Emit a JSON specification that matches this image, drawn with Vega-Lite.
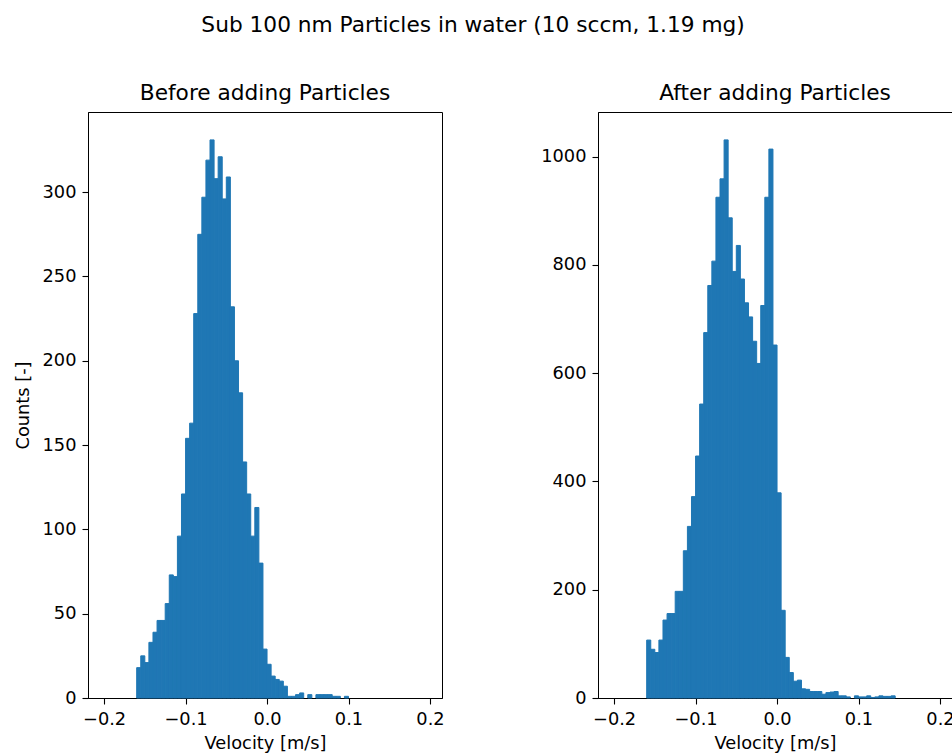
{
  "$schema": "https://vega.github.io/schema/vega-lite/v6.json",
  "background": "white",
  "padding": {"left": 13, "top": 15, "right": 0, "bottom": 0},
  "title": {"text": "Sub 100 nm Particles in water (10 sccm, 1.19 mg)", "anchor": "middle", "dx": -11, "offset": 46, "font": "DejaVu Sans", "fontSize": 21.7, "fontWeight": "normal", "color": "black"},
  "config": {
    "font": "DejaVu Sans",
    "view": {"stroke": "black", "strokeWidth": 1},
    "axis": {"grid": false, "domain": true, "domainColor": "black", "domainWidth": 1, "tickColor": "black", "tickSize": 6, "tickWidth": 1.1, "labelFont": "DejaVu Sans", "labelFontSize": 17.8, "labelColor": "black", "labelPadding": 6, "titleFont": "DejaVu Sans", "titleFontSize": 17.8, "titleFontWeight": "normal", "titleColor": "black"},
    "axisY": {"titlePadding": 10},
    "axisX": {"titlePadding": 7},
    "title": {"font": "DejaVu Sans", "fontSize": 21.7, "fontWeight": "normal", "color": "black"}
  },
  "datasets": {
    "before": [
      {"x0": -0.160, "x1": -0.155, "count": 18},
      {"x0": -0.155, "x1": -0.150, "count": 25},
      {"x0": -0.150, "x1": -0.145, "count": 21},
      {"x0": -0.145, "x1": -0.140, "count": 33},
      {"x0": -0.140, "x1": -0.135, "count": 39},
      {"x0": -0.135, "x1": -0.130, "count": 46},
      {"x0": -0.130, "x1": -0.125, "count": 46},
      {"x0": -0.125, "x1": -0.120, "count": 56},
      {"x0": -0.120, "x1": -0.115, "count": 73},
      {"x0": -0.115, "x1": -0.110, "count": 72},
      {"x0": -0.110, "x1": -0.105, "count": 96},
      {"x0": -0.105, "x1": -0.100, "count": 121},
      {"x0": -0.100, "x1": -0.095, "count": 154},
      {"x0": -0.095, "x1": -0.090, "count": 163},
      {"x0": -0.090, "x1": -0.085, "count": 228},
      {"x0": -0.085, "x1": -0.080, "count": 275},
      {"x0": -0.080, "x1": -0.075, "count": 297},
      {"x0": -0.075, "x1": -0.070, "count": 319},
      {"x0": -0.070, "x1": -0.065, "count": 331},
      {"x0": -0.065, "x1": -0.060, "count": 308},
      {"x0": -0.060, "x1": -0.055, "count": 321},
      {"x0": -0.055, "x1": -0.050, "count": 296},
      {"x0": -0.050, "x1": -0.045, "count": 309},
      {"x0": -0.045, "x1": -0.040, "count": 232},
      {"x0": -0.040, "x1": -0.035, "count": 200},
      {"x0": -0.035, "x1": -0.030, "count": 181},
      {"x0": -0.030, "x1": -0.025, "count": 140},
      {"x0": -0.025, "x1": -0.020, "count": 121},
      {"x0": -0.020, "x1": -0.015, "count": 96},
      {"x0": -0.015, "x1": -0.010, "count": 113},
      {"x0": -0.010, "x1": -0.005, "count": 80},
      {"x0": -0.005, "x1": 0.000, "count": 29},
      {"x0": 0.000, "x1": 0.005, "count": 20},
      {"x0": 0.005, "x1": 0.010, "count": 13},
      {"x0": 0.010, "x1": 0.015, "count": 11},
      {"x0": 0.015, "x1": 0.020, "count": 10},
      {"x0": 0.020, "x1": 0.025, "count": 7},
      {"x0": 0.025, "x1": 0.030, "count": 1},
      {"x0": 0.030, "x1": 0.035, "count": 1},
      {"x0": 0.035, "x1": 0.040, "count": 2},
      {"x0": 0.040, "x1": 0.045, "count": 3},
      {"x0": 0.050, "x1": 0.055, "count": 2},
      {"x0": 0.060, "x1": 0.065, "count": 2},
      {"x0": 0.065, "x1": 0.070, "count": 2},
      {"x0": 0.070, "x1": 0.075, "count": 2},
      {"x0": 0.075, "x1": 0.080, "count": 2},
      {"x0": 0.080, "x1": 0.085, "count": 1},
      {"x0": 0.085, "x1": 0.090, "count": 1},
      {"x0": 0.095, "x1": 0.100, "count": 1}
    ],
    "after": [
      {"x0": -0.160, "x1": -0.155, "count": 107},
      {"x0": -0.155, "x1": -0.150, "count": 90},
      {"x0": -0.150, "x1": -0.145, "count": 84},
      {"x0": -0.145, "x1": -0.140, "count": 107},
      {"x0": -0.140, "x1": -0.135, "count": 144},
      {"x0": -0.135, "x1": -0.130, "count": 156},
      {"x0": -0.130, "x1": -0.125, "count": 156},
      {"x0": -0.125, "x1": -0.120, "count": 197},
      {"x0": -0.120, "x1": -0.115, "count": 197},
      {"x0": -0.115, "x1": -0.110, "count": 272},
      {"x0": -0.110, "x1": -0.105, "count": 317},
      {"x0": -0.105, "x1": -0.100, "count": 372},
      {"x0": -0.100, "x1": -0.095, "count": 447},
      {"x0": -0.095, "x1": -0.090, "count": 543},
      {"x0": -0.090, "x1": -0.085, "count": 675},
      {"x0": -0.085, "x1": -0.080, "count": 762},
      {"x0": -0.080, "x1": -0.075, "count": 807},
      {"x0": -0.075, "x1": -0.070, "count": 925},
      {"x0": -0.070, "x1": -0.065, "count": 959},
      {"x0": -0.065, "x1": -0.060, "count": 1031},
      {"x0": -0.060, "x1": -0.055, "count": 887},
      {"x0": -0.055, "x1": -0.050, "count": 788},
      {"x0": -0.050, "x1": -0.045, "count": 836},
      {"x0": -0.045, "x1": -0.040, "count": 774},
      {"x0": -0.040, "x1": -0.035, "count": 730},
      {"x0": -0.035, "x1": -0.030, "count": 704},
      {"x0": -0.030, "x1": -0.025, "count": 659},
      {"x0": -0.025, "x1": -0.020, "count": 618},
      {"x0": -0.020, "x1": -0.015, "count": 725},
      {"x0": -0.015, "x1": -0.010, "count": 925},
      {"x0": -0.010, "x1": -0.005, "count": 1014},
      {"x0": -0.005, "x1": 0.000, "count": 652},
      {"x0": 0.000, "x1": 0.005, "count": 379},
      {"x0": 0.005, "x1": 0.010, "count": 162},
      {"x0": 0.010, "x1": 0.015, "count": 75},
      {"x0": 0.015, "x1": 0.020, "count": 47},
      {"x0": 0.020, "x1": 0.025, "count": 31},
      {"x0": 0.025, "x1": 0.030, "count": 33},
      {"x0": 0.030, "x1": 0.035, "count": 17},
      {"x0": 0.035, "x1": 0.040, "count": 16},
      {"x0": 0.040, "x1": 0.045, "count": 12},
      {"x0": 0.045, "x1": 0.050, "count": 12},
      {"x0": 0.050, "x1": 0.055, "count": 12},
      {"x0": 0.055, "x1": 0.060, "count": 7},
      {"x0": 0.060, "x1": 0.065, "count": 10},
      {"x0": 0.065, "x1": 0.070, "count": 11},
      {"x0": 0.070, "x1": 0.075, "count": 12},
      {"x0": 0.075, "x1": 0.080, "count": 4},
      {"x0": 0.080, "x1": 0.085, "count": 4},
      {"x0": 0.085, "x1": 0.090, "count": 2},
      {"x0": 0.095, "x1": 0.100, "count": 4},
      {"x0": 0.100, "x1": 0.105, "count": 2},
      {"x0": 0.105, "x1": 0.110, "count": 2},
      {"x0": 0.110, "x1": 0.115, "count": 4},
      {"x0": 0.115, "x1": 0.120, "count": 1},
      {"x0": 0.120, "x1": 0.125, "count": 2},
      {"x0": 0.125, "x1": 0.130, "count": 4},
      {"x0": 0.130, "x1": 0.135, "count": 3},
      {"x0": 0.135, "x1": 0.140, "count": 3},
      {"x0": 0.140, "x1": 0.145, "count": 4}
    ]
  },
  "spacing": 156,
  "bounds": "flush",
  "hconcat": [
    {
      "width": 354,
      "height": 586,
      "title": {"text": "Before adding Particles", "offset": 7},
      "data": {"name": "before"},
      "mark": {"type": "bar", "color": "#1f77b4", "stroke": "#1f77b4", "strokeWidth": 1},
      "encoding": {
        "x": {"field": "x0", "type": "quantitative", "scale": {"domain": [-0.21975, 0.21475], "nice": false, "zero": false}, "axis": {"values": [-0.2, -0.1, 0, 0.1, 0.2], "format": ".1f", "title": "Velocity [m/s]"}},
        "x2": {"field": "x1"},
        "y": {"field": "count", "type": "quantitative", "scale": {"domain": [0, 347.55], "nice": false}, "axis": {"values": [0, 50, 100, 150, 200, 250, 300], "format": "d", "title": "Counts [-]"}},
        "y2": {"datum": 0}
      }
    },
    {
      "width": 354,
      "height": 586,
      "title": {"text": "After adding Particles", "offset": 7},
      "data": {"name": "after"},
      "mark": {"type": "bar", "color": "#1f77b4", "stroke": "#1f77b4", "strokeWidth": 1},
      "encoding": {
        "x": {"field": "x0", "type": "quantitative", "scale": {"domain": [-0.21975, 0.21475], "nice": false, "zero": false}, "axis": {"values": [-0.2, -0.1, 0, 0.1, 0.2], "format": ".1f", "title": "Velocity [m/s]"}},
        "x2": {"field": "x1"},
        "y": {"field": "count", "type": "quantitative", "scale": {"domain": [0, 1082.5], "nice": false}, "axis": {"values": [0, 200, 400, 600, 800, 1000], "format": "d", "title": null}},
        "y2": {"datum": 0}
      }
    }
  ]
}
